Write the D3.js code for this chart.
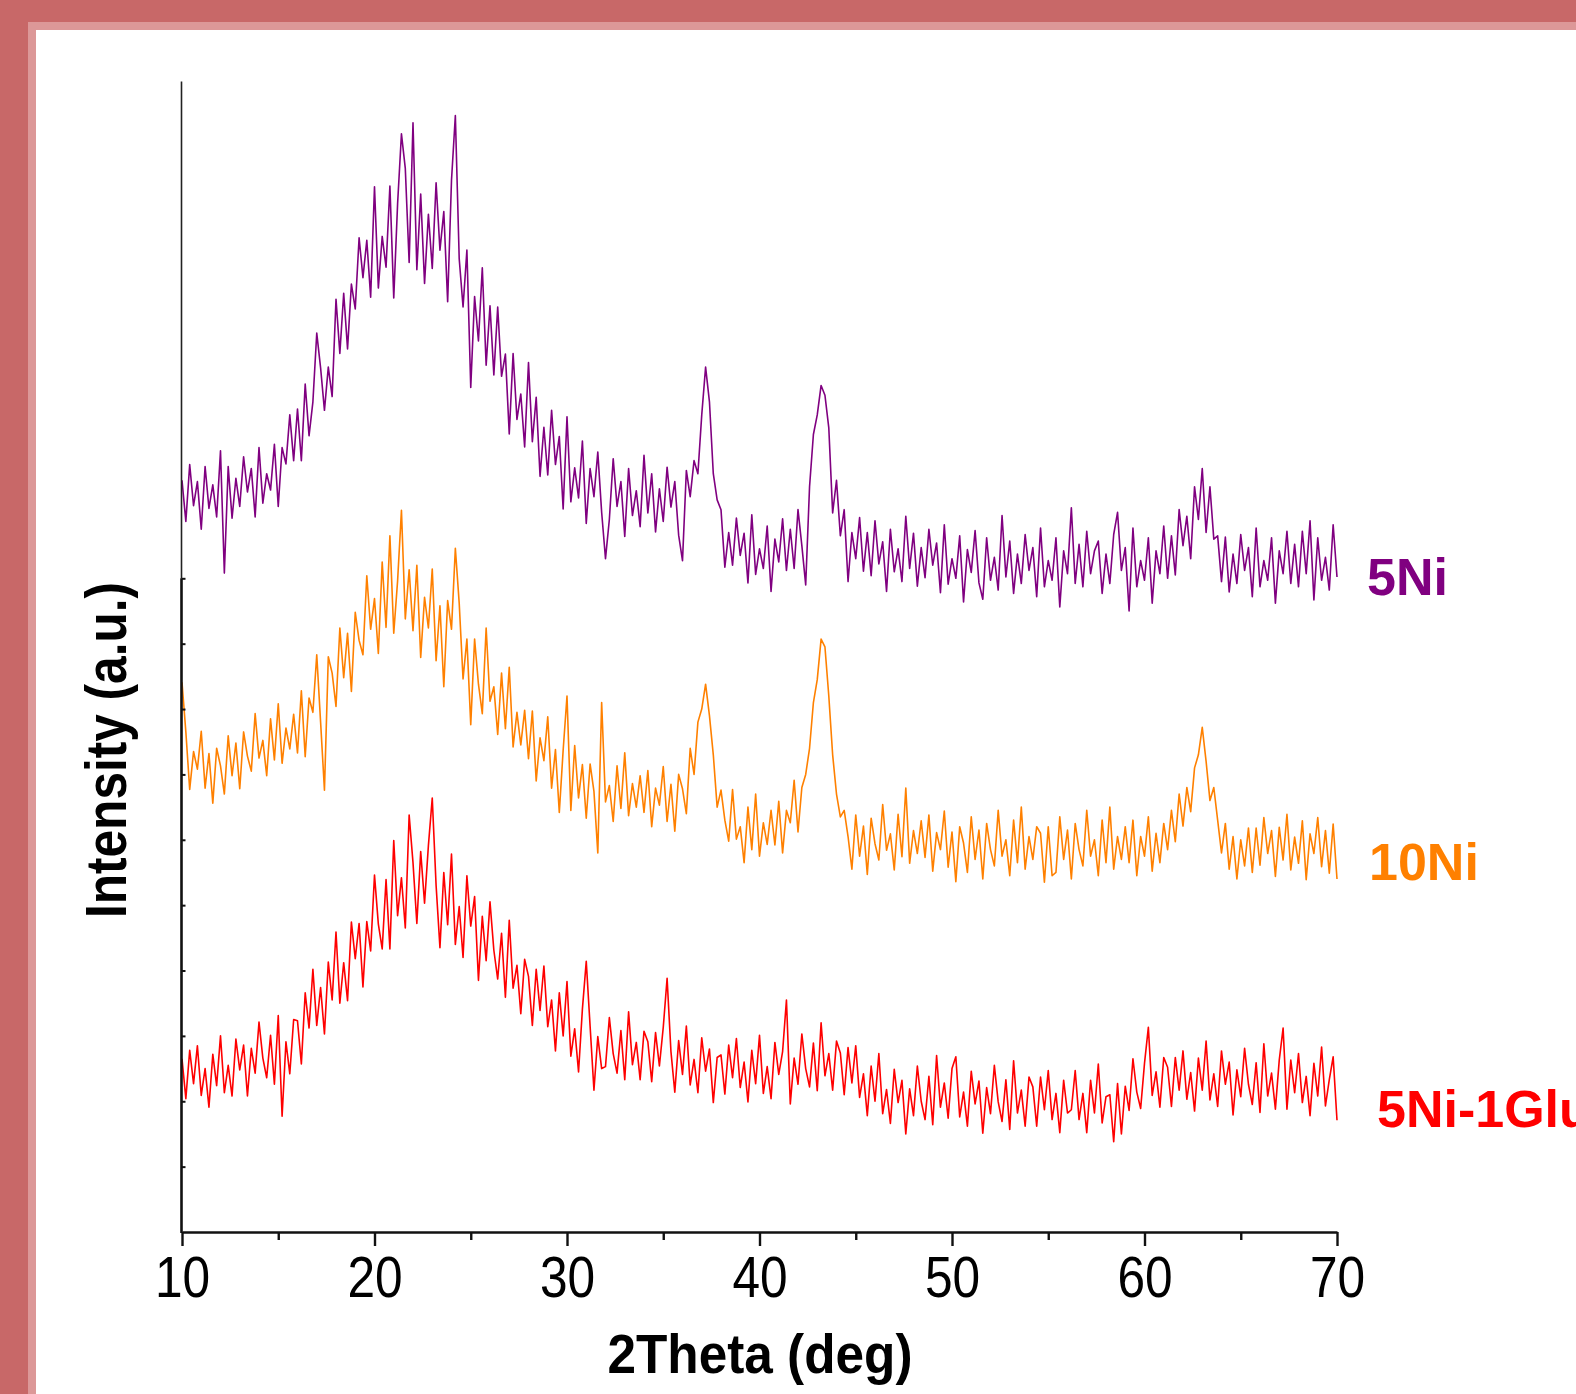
<!DOCTYPE html>
<html>
<head>
<meta charset="utf-8">
<script src="https://cdn.jsdelivr.net/npm/d3@7"></script>
<style>
  html, body { margin: 0; padding: 0; background: #fff; }
  svg { display: block; }
  text { font-family: "Liberation Sans", Arial, Helvetica, sans-serif; }
</style>
</head>
<body>
<div id="chart"></div>
<script>
// 2Theta grid of the scans (deg)
const angleStart = 10
const angleStep = 0.2

// intensities (a.u.), one row per degree: x.0, x.2, x.4, x.6, x.8
const ni5 = [
  350, 287, 374, 311, 348,
  275, 371, 307, 343, 294,
  395, 208, 371, 292, 353,
  310, 386, 332, 368, 294,
  400, 315, 360, 335, 405,
  310, 400, 375, 450, 380,
  459, 380, 497, 418, 470,
  575, 522, 457, 523, 478,
  627, 544, 636, 551, 650,
  612, 721, 660, 717, 630,
  799, 644, 723, 676, 800,
  629, 773, 880, 827, 683,
  897, 672, 788, 651, 757,
  674, 805, 702, 761, 623,
  809, 908, 689, 615, 702,
  492, 631, 563, 675, 526,
  617, 511, 615, 509, 543,
  421, 544, 443, 482, 401,
  530, 409, 477, 356, 431,
  358, 457, 374, 417, 306,
  447, 317, 369, 323, 410,
  284, 368, 325, 393, 301,
  230, 290, 383, 310, 348,
  264, 368, 296, 334, 279,
  388, 300, 360, 271, 337,
  287, 370, 309, 348, 266,
  227, 365, 325, 380, 360,
  450, 523, 470, 360, 320,
  305, 217, 270, 220, 292,
  235, 269, 193, 297, 206,
  245, 215, 280, 180, 260,
  225, 291, 212, 275, 215,
  305, 250, 190, 340, 420,
  450, 495, 480, 430, 300,
  350, 265, 305, 195, 270,
  230, 293, 211, 270, 204,
  288, 222, 256, 180, 275,
  210, 245, 195, 295, 215,
  269, 188, 247, 201, 275,
  220, 254, 178, 282, 191,
  230, 200, 265, 164, 244,
  209, 273, 193, 168, 262,
  197, 232, 182, 296, 202,
  257, 177, 237, 192, 267,
  212, 247, 172, 277, 187,
  227, 197, 262, 156, 242,
  207, 308, 192, 252, 187,
  272, 207, 242, 257, 177,
  237, 192, 267, 301, 212,
  247, 150, 277, 187, 227,
  197, 262, 162, 242, 207,
  280, 200, 265, 205, 305,
  250, 295, 230, 340, 290,
  368, 270, 340, 260, 265,
  195, 263, 179, 237, 192,
  267, 212, 247, 172, 277,
  187, 227, 197, 262, 162,
  242, 207, 272, 192, 252,
  187, 272, 207, 288, 167,
  262, 197, 232, 182, 282,
  202
]

const ni10 = [
  441, 365, 277, 335, 308,
  366, 279, 332, 256, 340,
  313, 270, 359, 298, 348,
  278, 365, 328, 305, 393,
  325, 352, 298, 385, 322,
  408, 317, 371, 339, 392,
  333, 428, 327, 417, 395,
  483, 380, 276, 480, 455,
  404, 524, 448, 516, 427,
  548, 505, 483, 604, 522,
  569, 485, 625, 525, 665,
  516, 596, 704, 538, 613,
  520, 620, 479, 571, 524,
  614, 474, 558, 434, 566,
  522, 646, 562, 446, 507,
  376, 507, 438, 393, 524,
  412, 434, 361, 455, 370,
  464, 342, 395, 345, 398,
  324, 397, 290, 356, 321,
  388, 279, 338, 242, 337,
  420, 245, 344, 264, 315,
  233, 316, 274, 180, 410,
  258, 283, 228, 313, 248,
  333, 237, 286, 250, 298,
  242, 306, 220, 279, 253,
  312, 228, 285, 213, 300,
  278, 240, 340, 300, 380,
  400, 438, 390, 330, 250,
  276, 230, 198, 277, 201,
  220, 165, 250, 185, 270,
  175, 226, 193, 245, 192,
  259, 180, 245, 226, 291,
  212, 280, 300, 340, 410,
  445, 507, 495, 420, 330,
  270, 235, 245, 205, 155,
  238, 175, 221, 147, 233,
  194, 169, 254, 184, 209,
  154, 239, 174, 279, 164,
  214, 179, 229, 173, 238,
  152, 211, 185, 244, 158,
  212, 136, 220, 195, 150,
  235, 170, 215, 140, 225,
  185, 160, 245, 175, 200,
  145, 230, 165, 250, 155,
  205, 170, 220, 210, 135,
  220, 145, 150, 235, 170,
  215, 140, 225, 185, 160,
  245, 175, 200, 145, 230,
  165, 250, 155, 205, 170,
  220, 165, 230, 145, 205,
  175, 235, 152, 210, 165,
  225, 185, 245, 197, 270,
  221, 280, 243, 310, 330,
  372, 320, 260, 280, 230,
  180, 225, 155, 205, 140,
  200, 160, 218, 150, 218,
  161, 234, 179, 214, 144,
  219, 169, 239, 154, 204,
  164, 229, 139, 209, 179,
  234, 159, 214, 149, 224,
  140
]

const ni5glu1 = [
  265, 204, 278, 227, 285,
  209, 250, 191, 272, 224,
  300, 213, 255, 208, 295,
  248, 286, 208, 281, 243,
  321, 266, 236, 301, 226,
  331, 177, 291, 242, 325,
  323, 257, 366, 312, 402,
  316, 374, 303, 413, 355,
  459, 350, 412, 354, 474,
  418, 472, 375, 475, 430,
  546, 471, 433, 539, 433,
  599, 484, 542, 465, 638,
  565, 472, 582, 503, 591,
  664, 530, 435, 550, 470,
  578, 440, 498, 420, 545,
  468, 513, 385, 483, 415,
  505, 431, 387, 457, 359,
  477, 373, 408, 334, 417,
  391, 316, 402, 339, 407,
  314, 355, 277, 366, 300,
  383, 269, 311, 245, 341,
  414, 315, 217, 299, 250,
  253, 328, 273, 243, 308,
  233, 337, 256, 290, 233,
  307, 291, 230, 305, 254,
  313, 388, 276, 214, 293,
  241, 315, 225, 264, 213,
  297, 246, 280, 198, 267,
  271, 211, 286, 236, 296,
  221, 260, 199, 278, 227,
  301, 212, 253, 204, 290,
  241, 276, 355, 196, 266,
  226, 303, 250, 222, 289,
  216, 320, 239, 273, 217,
  292, 274, 210, 282, 228,
  285, 206, 242, 178, 254,
  200, 273, 181, 218, 166,
  249, 198, 232, 150, 219,
  178, 254, 200, 172, 238,
  164, 270, 191, 228, 174,
  250, 268, 176, 214, 162,
  246, 196, 231, 151, 221,
  181, 255, 199, 169, 233,
  157, 262, 182, 217, 162,
  237, 222, 162, 237, 187,
  247, 172, 212, 152, 232,
  182, 187, 247, 172, 212,
  152, 232, 182, 257, 167,
  207, 210, 138, 227, 150,
  223, 186, 265, 214, 189,
  258, 313, 209, 245, 191,
  267, 252, 192, 267, 217,
  277, 203, 244, 185, 266,
  217, 292, 202, 242, 192,
  277, 226, 260, 179, 248,
  207, 281, 226, 195, 259,
  183, 288, 208, 243, 188,
  263, 312, 188, 263, 213,
  273, 198, 238, 178, 258,
  208, 283, 193, 233, 268,
  171
]

const seriesNames = ['5Ni', '10Ni', '5Ni-1Glu']
const seriesColors = ['#800080', '#ff8000', '#ff0000']
// vertical stacking offset of each pattern (a.u.)
const seriesOffsets = [800, 400, 0]

const xTicks = [10, 20, 30, 40, 50, 60, 70]
const xMinorTicks = [15, 25, 35, 45, 55, 65]
const yTicks = [100, 200, 300, 400, 500, 600, 700, 800, 900, 1000]

const width = 1576
const height = 1394

const x = d3.scaleLinear().domain([10, 70]).range([182, 1337])
const y = d3.scaleLinear().domain([0, 1760]).range([1232, 81.5])

const svg = d3.select('#chart')
  .append('svg')
  .attr('width', width)
  .attr('height', height)

// slide frame
svg.append('rect').attr('width', width).attr('height', height).attr('fill', '#c86868')
svg.append('rect').attr('x', 28).attr('y', 22)
  .attr('width', width - 28).attr('height', height - 22).attr('fill', '#dc9898')
svg.append('rect').attr('x', 36).attr('y', 30)
  .attr('width', width - 36).attr('height', height - 30).attr('fill', '#fff')

const line = d3.line()
  .x((d, i) => x(angleStart + i * angleStep))
  .y(d => y(d))

const series = [ni5, ni10, ni5glu1]

series.forEach((vals, k) => {
  svg.append('path')
    .datum(vals.map(v => v + seriesOffsets[k]))
    .attr('fill', 'none')
    .attr('stroke', seriesColors[k])
    .attr('stroke-width', 1.6)
    .attr('stroke-linejoin', 'round')
    .attr('d', line)
})

// y axis, thin on the upper part, heavier below
svg.append('line')
  .attr('x1', 181.5).attr('x2', 181.5)
  .attr('y1', y(1760)).attr('y2', y(1000))
  .attr('stroke', '#222').attr('stroke-width', 1.6)
svg.append('line')
  .attr('x1', 181.5).attr('x2', 181.5)
  .attr('y1', y(1000)).attr('y2', y(0) + 1)
  .attr('stroke', '#111').attr('stroke-width', 2.6)

const yAxis = svg.append('g')
  .attr('transform', 'translate(181.5,0)')
  .call(d3.axisRight(y).tickValues(yTicks).tickSize(4).tickFormat(''))
yAxis.select('.domain').remove()
yAxis.selectAll('.tick line').attr('stroke', '#111').attr('stroke-width', 2)

// x axis
const xMinor = svg.append('g')
  .attr('transform', 'translate(0,1232)')
  .call(d3.axisBottom(x).tickValues(xMinorTicks).tickSize(8).tickFormat(''))
xMinor.select('.domain').remove()
xMinor.selectAll('.tick line').attr('stroke', '#111').attr('stroke-width', 2.4)

const xAxis = svg.append('g')
  .attr('transform', 'translate(0,1232)')
  .call(d3.axisBottom(x).tickValues(xTicks).tickSize(14).tickSizeOuter(0).tickFormat(d3.format('d')))
xAxis.attr('font-size', 57).attr('font-family', '"Liberation Sans", Arial, sans-serif')
xAxis.select('.domain').attr('stroke', '#111').attr('stroke-width', 2.6)
xAxis.selectAll('.tick line').attr('stroke', '#111').attr('stroke-width', 2.4)
xAxis.selectAll('.tick text')
  .attr('fill', '#000')
  .attr('y', 65)
  .attr('dy', null)
  .attr('transform', 'scale(0.87,1)')

// axis titles
svg.append('text')
  .attr('x', 760)
  .attr('y', 1373)
  .attr('text-anchor', 'middle')
  .attr('font-weight', 'bold')
  .attr('font-size', 56)
  .attr('textLength', 305)
  .attr('lengthAdjust', 'spacingAndGlyphs')
  .text('2Theta (deg)')

svg.append('text')
  .attr('transform', 'translate(126,750) rotate(-90)')
  .attr('text-anchor', 'middle')
  .attr('font-weight', 'bold')
  .attr('font-size', 58)
  .attr('textLength', 336)
  .attr('lengthAdjust', 'spacingAndGlyphs')
  .text('Intensity (a.u.)')

// series labels
const labelPos = [[1367, 595], [1369, 880], [1377, 1127]]
seriesNames.forEach((name, k) => {
  svg.append('text')
    .attr('x', labelPos[k][0])
    .attr('y', labelPos[k][1])
    .attr('font-weight', 'bold')
    .attr('font-size', 52)
    .attr('fill', seriesColors[k])
    .text(name)
})
</script>
</body>
</html>
